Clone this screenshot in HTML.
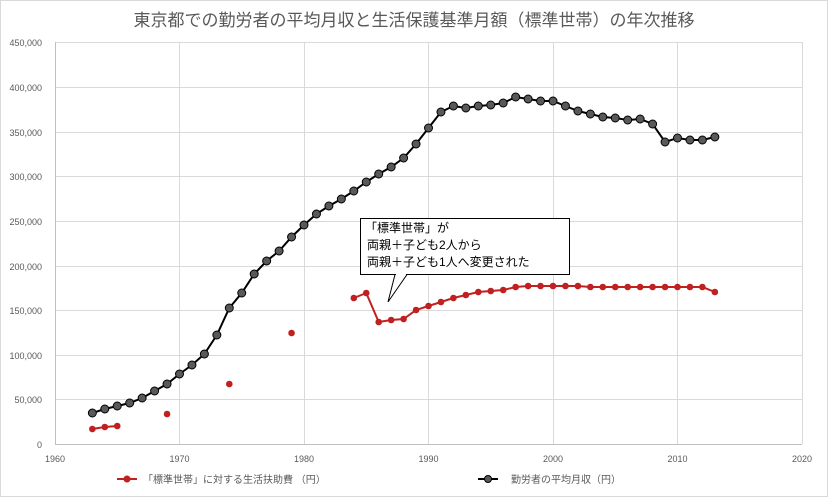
<!DOCTYPE html>
<html><head><meta charset="utf-8"><style>
body{margin:0;background:#fff}
svg{display:block;font-family:"Liberation Sans","Noto Sans CJK JP",sans-serif}
</style></head><body>
<svg width="828" height="497" viewBox="0 0 828 497">
<rect x="0.5" y="0.5" width="827" height="496" fill="#fff" stroke="#d9d9d9"/>
<text x="414" y="26" text-anchor="middle" font-size="17" fill="#595959">東京都での勤労者の平均月収と生活保護基準月額（標準世帯）の年次推移</text>
<g stroke="#d9d9d9" stroke-width="1">
<line x1="55" x2="802" y1="42.5" y2="42.5"/><line x1="55" x2="802" y1="87.5" y2="87.5"/><line x1="55" x2="802" y1="132.5" y2="132.5"/><line x1="55" x2="802" y1="176.5" y2="176.5"/><line x1="55" x2="802" y1="221.5" y2="221.5"/><line x1="55" x2="802" y1="266.5" y2="266.5"/><line x1="55" x2="802" y1="310.5" y2="310.5"/><line x1="55" x2="802" y1="355.5" y2="355.5"/><line x1="55" x2="802" y1="399.5" y2="399.5"/>
<line x1="179.5" x2="179.5" y1="42" y2="444"/><line x1="304.5" x2="304.5" y1="42" y2="444"/><line x1="428.5" x2="428.5" y1="42" y2="444"/><line x1="553.5" x2="553.5" y1="42" y2="444"/><line x1="677.5" x2="677.5" y1="42" y2="444"/><line x1="802.5" x2="802.5" y1="42" y2="444"/>
</g>
<line x1="55" x2="802" y1="444.5" y2="444.5" stroke="#bfbfbf"/>
<line x1="55.5" x2="55.5" y1="42" y2="444" stroke="#bfbfbf"/>
<g font-size="9" fill="#595959" text-anchor="end">
<text x="42" y="46">450,000</text><text x="42" y="91">400,000</text><text x="42" y="136">350,000</text><text x="42" y="180">300,000</text><text x="42" y="225">250,000</text><text x="42" y="270">200,000</text><text x="42" y="314">150,000</text><text x="42" y="359">100,000</text><text x="42" y="403">50,000</text><text x="42" y="448">0</text>
</g>
<g font-size="9" fill="#595959" text-anchor="middle">
<text x="55" y="462">1960</text><text x="179.5" y="462">1970</text><text x="304" y="462">1980</text><text x="428.5" y="462">1990</text><text x="553" y="462">2000</text><text x="677.5" y="462">2010</text><text x="802" y="462">2020</text>
</g>
<g id="blk"></g>
<g id="red"></g>
<rect x="360.5" y="218.5" width="209" height="56" fill="#fff" stroke="#000"/>
<polygon points="395,274.5 407,274.5 388,302" fill="#fff" stroke="#000"/>
<line x1="396" x2="406" y1="274.5" y2="274.5" stroke="#fff" stroke-width="2"/>
<g font-size="12" fill="#000"><text x="365" y="232">「標準世帯」が</text><text x="367" y="249">両親＋子ども2人から</text><text x="367" y="266">両親＋子ども1人へ変更された</text></g>
<line x1="117" x2="137" y1="479" y2="479" stroke="#c0201f" stroke-width="2"/><circle cx="127" cy="479" r="3.5" fill="#c0201f"/>
<text x="143" y="483" font-size="10" fill="#595959">「標準世帯」に対する生活扶助費 （円）</text>
<line x1="478" x2="498" y1="479" y2="479" stroke="#000" stroke-width="2"/><circle cx="488" cy="479" r="3.5" fill="#595959" stroke="#000"/>
<text x="511" y="483" font-size="10" fill="#595959">勤労者の平均月収（円）</text>
</svg>
<script>
var B=[413,409,406,403,398,391,384,374,365,354,335,308,293,274,261,251,237,225,214,206,199,191,182,174,167,158,144,128,112,106,108,106,105,103,97,99,101,101,106,111,114,117,118,120,119,124,142,138,140,140,137];
var Rs=[[[1963,429],[1964,427],[1965,426]],[[1969,414]],[[1974,384]],[[1979,333]]];
var Rl=[298,293,322,320,319,310,306,302,298,295,292,291,290,287,286,286,286,286,286,287,287,287,287,287,287,287,287,287,287,292];
function X(y){return 55+(y-1960)*12.45}
var ns="http://www.w3.org/2000/svg";
function line(g,pts,col){var p=document.createElementNS(ns,"polyline");p.setAttribute("points",pts.map(function(a){return X(a[0])+","+a[1]}).join(" "));p.setAttribute("fill","none");p.setAttribute("stroke",col);p.setAttribute("stroke-width","2");g.appendChild(p);}
function dot(g,a,f,s,r){var c=document.createElementNS(ns,"circle");c.setAttribute("cx",X(a[0]));c.setAttribute("cy",a[1]);c.setAttribute("r",r);c.setAttribute("fill",f);if(s){c.setAttribute("stroke",s);c.setAttribute("stroke-width","1");}g.appendChild(c);}
var gb=document.getElementById("blk"),gr=document.getElementById("red");
var bp=B.map(function(v,i){return[1963+i,v]});line(gb,bp,"#000");bp.forEach(function(a){dot(gb,a,"#595959","#000",4)});
Rs.forEach(function(s){if(s.length>1)line(gr,s,"#c0201f");s.forEach(function(a){dot(gr,a,"#c0201f",null,3.3)})});
var rp=Rl.map(function(v,i){return[1984+i,v]});line(gr,rp,"#c0201f");rp.forEach(function(a){dot(gr,a,"#c0201f",null,3.3)});
</script>
</body></html>
